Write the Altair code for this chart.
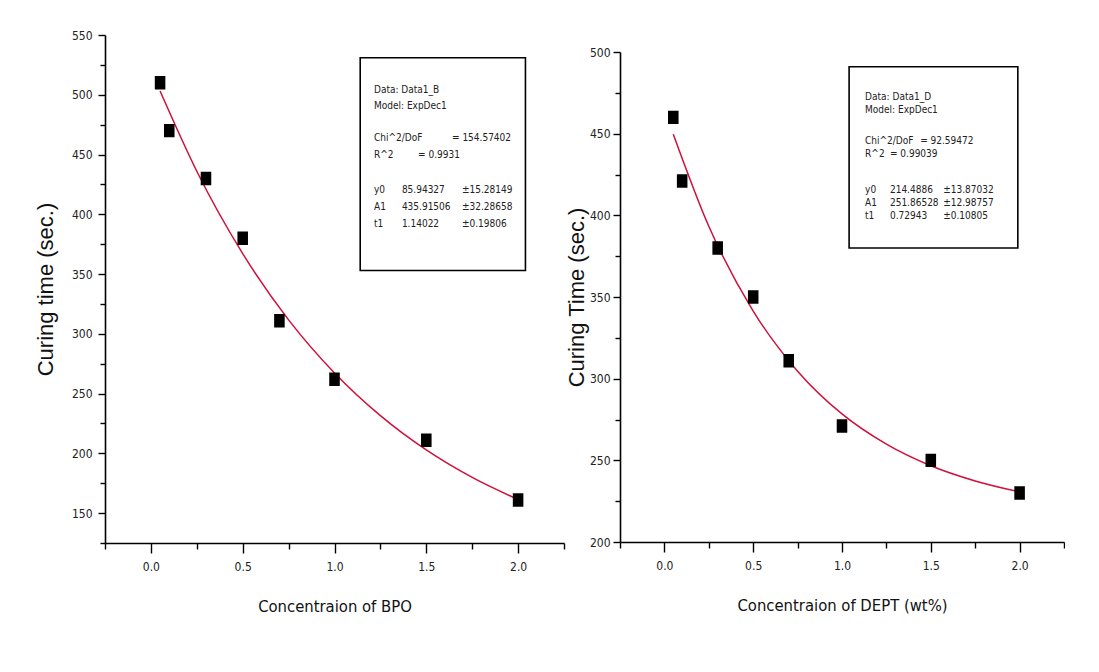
import altair as alt
import pandas as pd

# ---------------- data ----------------
bpo_conc = [0.05, 0.1, 0.3, 0.5, 0.7, 1.0, 1.5, 2.0]
bpo_time = [510, 470, 430, 380, 311, 262, 211, 161]
bpo_fit_x = [0.05, 0.25, 0.5, 0.75, 1.0, 1.25, 1.5, 1.75, 2.0]
bpo_fit_y = [503.1, 436.0, 367.1, 311.7, 267.3, 231.6, 202.9, 179.9, 161.4]

dept_conc = [0.05, 0.1, 0.3, 0.5, 0.7, 1.0, 1.5, 2.0]
dept_time = [460, 421, 380, 350, 311, 271, 250, 230]
dept_fit_x = [0.05, 0.25, 0.5, 0.75, 1.0, 1.25, 1.5, 1.75, 2.0]
dept_fit_y = [449.7, 393.3, 341.4, 304.6, 278.4, 259.9, 246.7, 237.4, 230.7]

bpo_box_lines = [
    ["Data: Data1_B"],
    ["Model: ExpDec1"],
    ["Chi^2/DoF", "= 154.57402"],
    ["R^2", "= 0.9931"],
    ["y0", "85.94327", "\u00b115.28149"],
    ["A1", "435.91506", "\u00b132.28658"],
    ["t1", "1.14022", "\u00b10.19806"],
]
dept_box_lines = [
    ["Data: Data1_D"],
    ["Model: ExpDec1"],
    ["Chi^2/DoF", "= 92.59472"],
    ["R^2", "= 0.99039"],
    ["y0", "214.4886", "\u00b113.87032"],
    ["A1", "251.86528", "\u00b112.98757"],
    ["t1", "0.72943", "\u00b10.10805"],
]

# ---------------- annotation box placement (data space) ----------------
bpo_box = dict(x=1.14, x2=2.04, y=531, y2=353,
               rows=[504, 490.6, 463.8, 449.6, 420.3, 406.1, 391.8],
               cols3=[1.215, 1.367, 1.694], cols2=[1.215, 1.455, 1.64], size=10)
dept_box = dict(x=1.04, x2=1.99, y=491, y2=380,
                rows=[472.4, 464.5, 445.5, 437.5, 415.5, 407.5, 399.5],
                cols3=[1.13, 1.27, 1.57], cols2=[1.13, 1.27, 1.44], size=10)

FONT = "Liberation Sans, Arial"
NARROW = "Liberation Sans Narrow, DejaVu Sans Condensed, Roboto Condensed, Liberation Sans, Arial"
RED = "#d0103a"


def build_text(lines, box):
    recs = []
    for i, parts in enumerate(lines):
        y = box["rows"][i]
        if len(parts) == 1:
            xs = [box["cols3"][0]]
        elif i == 2:
            xs = [box["cols2"][0], box["cols2"][2]]
        elif i == 3:
            xs = [box["cols2"][0], box["cols2"][1]]
        else:
            xs = box["cols3"]
        for t, x in zip(parts, xs):
            recs.append({"x": x, "y": y, "t": t})
    return pd.DataFrame(recs)


def panel(conc, time, fx, fy, lines, box, ydom, ytitle, xtitle, w, h, ytsize, ytpad, ylpad):
    xticks = [-0.25 + 0.25 * i for i in range(11)]
    yticks = list(range(ydom[0], ydom[1] + 1, 25))
    xscale = alt.Scale(domain=[-0.25, 2.25], nice=False, zero=False)
    yscale = alt.Scale(domain=ydom, nice=False, zero=False)
    xaxis = alt.Axis(
        values=xticks, title=xtitle, grid=False, labelOverlap=False,
        labelExpr="(datum.value * 4) % 2 == 0 ? format(datum.value, '.1f') : ''",
        tickSize={"condition": {"test": "(datum.value * 4) % 2 == 0", "value": 10}, "value": 6},
        domainColor="black", tickColor="black", domainWidth=1.6, tickWidth=1.4,
        labelFont=NARROW, labelFontSize=12, labelColor="#222", labelPadding=8,
        titleFont=NARROW, titleFontSize=16.5, titleFontWeight="normal", titleColor="#111",
        titlePadding=26,
    )
    yaxis = alt.Axis(
        values=yticks, title=ytitle, grid=False, labelOverlap=False,
        labelExpr="datum.value % 50 == 0 ? datum.label : ''",
        tickSize={"condition": {"test": "datum.value % 50 == 0", "value": 7}, "value": 5},
        domainColor="black", tickColor="black", domainWidth=1.6, tickWidth=1.4,
        labelFont=NARROW, labelFontSize=12, labelColor="#222", labelPadding=ylpad,
        titleFont=FONT, titleFontSize=ytsize, titleFontWeight="normal", titleColor="#111",
        titlePadding=ytpad,
    )
    pts = pd.DataFrame({"x": conc, "y": time})
    fit = pd.DataFrame({"x": fx, "y": fy})
    X = alt.X("x:Q", scale=xscale, axis=xaxis)
    Y = alt.Y("y:Q", scale=yscale, axis=yaxis)

    line = alt.Chart(fit).mark_line(color=RED, strokeWidth=1.5, interpolate="monotone").encode(x=X, y=Y)
    dots = alt.Chart(pts).mark_point(
        shape="M-0.75,-1L0.75,-1L0.75,1L-0.75,1Z", filled=True, fill="black",
        stroke="black", size=130, opacity=1).encode(x=X, y=Y)
    boxdf = pd.DataFrame([{"x": box["x"], "x2": box["x2"], "y": box["y"], "y2": box["y2"]}])
    rect = alt.Chart(boxdf).mark_rect(fill="white", stroke="black", strokeWidth=1.6).encode(
        x=X, x2="x2:Q", y=Y, y2="y2:Q")
    txt = alt.Chart(build_text(lines, box)).mark_text(
        align="left", baseline="middle", font=NARROW, fontSize=box["size"], color="#222").encode(
        x=X, y=Y, text="t:N")
    return alt.layer(line, dots, rect, txt).properties(width=w, height=h)


left = panel(bpo_conc, bpo_time, bpo_fit_x, bpo_fit_y, bpo_box_lines, bpo_box,
             [125, 550], "Curing time (sec.)", "Concentraion of BPO", 459, 508, 22, 14, 6)
right = panel(dept_conc, dept_time, dept_fit_x, dept_fit_y, dept_box_lines, dept_box,
              [200, 500], "Curing Time (sec.)", "Concentraion of DEPT (wt%)", 444, 490, 22, 1, 3)

spacer = alt.Chart(pd.DataFrame({"a": [0]})).mark_text(
    text=" ", baseline="top", align="left").encode(
    x=alt.value(0), y=alt.value(0)).properties(width=1, height=10)

right_col = alt.vconcat(spacer, right, spacing=0)

chart = alt.hconcat(left, right_col, spacing=0).properties(
    padding={"left": 26, "top": 21, "right": 0, "bottom": 0}
).configure(background="white").configure_view(strokeWidth=0, stroke="transparent")

chart.save("out.html", embed_options={"renderer": "svg", "actions": False})
